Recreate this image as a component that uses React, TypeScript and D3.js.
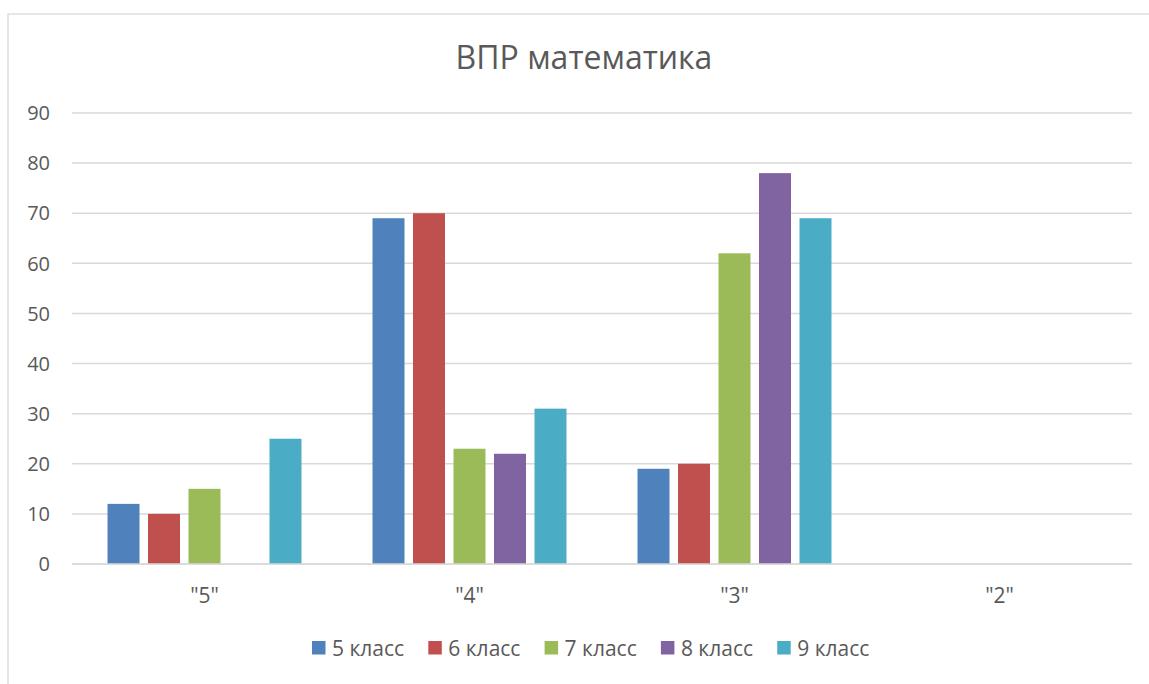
import React from "react";
import * as d3 from "d3";

const categories = ['"5"', '"4"', '"3"', '"2"'];
const seriesNames = ["5 класс", "6 класс", "7 класс", "8 класс", "9 класс"];
const colors = ["#4F81BD", "#C0504D", "#9BBB59", "#8064A2", "#4BACC6"];
const class5 = [12, 69, 19, 0];
const class6 = [10, 70, 20, 0];
const class7 = [15, 23, 62, 0];
const class8 = [0, 22, 78, 0];
const class9 = [25, 31, 69, 0];
const seriesValues = [class5, class6, class7, class8, class9];
const yTicks = [0, 10, 20, 30, 40, 50, 60, 70, 80, 90];

const W = 1149;
const H = 684;
const plotLeft = 72;
const plotRight = 1132;
const plotTop = 113;
const plotBottom = 564;
const FONT = "'Open Sans', 'DejaVu Sans', sans-serif";
const TEXT = "#595959";

export default function App() {
  const x = d3.scaleBand<string>().domain(categories).range([plotLeft, plotRight]).padding(0);
  const y = d3.scaleLinear().domain([0, 90]).range([plotBottom, plotTop]);
  const inner = d3
    .scaleBand<string>()
    .domain(seriesNames)
    .range([0, x.bandwidth()])
    .paddingOuter(0.877)
    .paddingInner(0.21);

  const legendStart = 312;
  const legendStep = 116.3;

  return (
    <svg
      width={W}
      height={H}
      style={{ position: "absolute", left: 0, top: 0, background: "#fff" }}
      fontFamily={FONT}
    >
      <rect x={8} y={14} width={W + 20} height={H + 20} fill="#fff" stroke="#d9d9d9" strokeWidth={1.3} />
      <text x={584} y={69} textAnchor="middle" fontSize={32} fill={TEXT}>
        ВПР математика
      </text>
      {yTicks.map((t) => (
        <g key={t}>
          <line x1={plotLeft} x2={plotRight} y1={y(t)} y2={y(t)} stroke="#d9d9d9" strokeWidth={1.5} />
          <text x={50} y={y(t)} dy="0.36em" textAnchor="end" fontSize={20} fill={TEXT}>
            {t}
          </text>
        </g>
      ))}
      {seriesValues.map((vals, si) =>
        vals.map((v, ci) =>
          v > 0 ? (
            <rect
              key={`${si}-${ci}`}
              x={(x(categories[ci]) as number) + (inner(seriesNames[si]) as number)}
              y={y(v)}
              width={inner.bandwidth()}
              height={y(0) - y(v)}
              fill={colors[si]}
            />
          ) : null
        )
      )}
      <line x1={plotLeft} x2={plotRight} y1={y(0)} y2={y(0)} stroke="#d9d9d9" strokeWidth={1.5} />
      {categories.map((c) => (
        <text
          key={c}
          x={(x(c) as number) + x.bandwidth() / 2}
          y={603}
          textAnchor="middle"
          fontSize={21}
          fill={TEXT}
        >
          {c}
        </text>
      ))}
      {seriesNames.map((s, i) => (
        <g key={s} transform={`translate(${legendStart + i * legendStep},648)`}>
          <rect x={0} y={-7} width={13.5} height={13.5} fill={colors[i]} />
          <text x={20} y={0} dy="0.36em" fontSize={21} fill={TEXT}>
            {s}
          </text>
        </g>
      ))}
    </svg>
  );
}
